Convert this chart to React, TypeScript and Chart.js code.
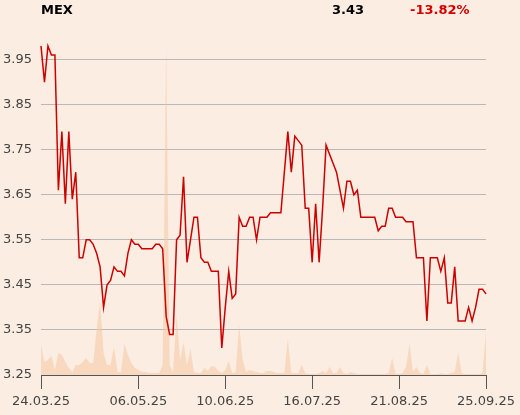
import React, { useEffect, useRef } from "react";
import { Chart, registerables } from "chart.js";

Chart.register(...registerables);

const title = "MEX";
const lastPrice = "3.43";
const changePct = "-13.82%";

const prices: number[] = [
  3.98, 3.9, 3.98, 3.96, 3.96, 3.66, 3.79, 3.63, 3.79, 3.64,
  3.7, 3.51, 3.51, 3.55, 3.55, 3.54, 3.52, 3.49, 3.4, 3.45,
  3.46, 3.49, 3.48, 3.48, 3.47, 3.52, 3.55, 3.54, 3.54, 3.53,
  3.53, 3.53, 3.53, 3.54, 3.54, 3.53, 3.38, 3.34, 3.34, 3.55,
  3.56, 3.69, 3.5, 3.55, 3.6, 3.6, 3.51, 3.5, 3.5, 3.48,
  3.48, 3.48, 3.31, 3.4, 3.48, 3.42, 3.43, 3.6, 3.58, 3.58,
  3.6, 3.6, 3.55, 3.6, 3.6, 3.6, 3.61, 3.61, 3.61, 3.61,
  3.7, 3.79, 3.7, 3.78, 3.77, 3.76, 3.62, 3.62, 3.5, 3.63,
  3.5, 3.62, 3.76, 3.74, 3.72, 3.7, 3.66, 3.62, 3.68, 3.68,
  3.65, 3.66, 3.6, 3.6, 3.6, 3.6, 3.6, 3.57, 3.58, 3.58,
  3.62, 3.62, 3.6, 3.6, 3.6, 3.59, 3.59, 3.59, 3.51, 3.51,
  3.51, 3.37, 3.51, 3.51, 3.51, 3.48, 3.51, 3.41, 3.41, 3.49,
  3.37, 3.37, 3.37, 3.4, 3.37, 3.4, 3.44, 3.44, 3.43,
];

const volumes: number[] = [
  30, 13, 15, 19, 5, 22, 20, 13, 7, 3,
  10, 10, 13, 17, 12, 12, 45, 73, 22, 10,
  10, 28, 3, 3, 31, 20, 12, 7, 5, 3,
  3, 2, 2, 2, 2, 10, 327, 10, 3, 60,
  15, 32, 10, 26, 3, 2, 2, 7, 4, 9,
  8, 4, 2, 5, 14, 2, 3, 50, 15, 3,
  5, 4, 3, 2, 2, 4, 4, 3, 2, 2,
  2, 36, 2, 2, 2, 10, 2, 1, 1, 1,
  2, 4, 2, 8, 2, 2, 8, 2, 1, 3,
  2, 1, 1, 1, 1, 1, 1, 1, 1, 1,
  2, 17, 1, 1, 2, 8, 31, 3, 8, 2,
  1, 10, 1, 1, 1, 2, 1, 1, 2, 3,
  22, 2, 1, 1, 1, 1, 1, 2, 43,
];

const xTickIndices: number[] = [0, 28, 53, 78, 103, 128];
const xTickLabels: string[] = ["24.03.25", "06.05.25", "10.06.25", "16.07.25", "21.08.25", "25.09.25"];
const yTicks: number[] = [3.25, 3.35, 3.45, 3.55, 3.65, 3.75, 3.85, 3.95];

const BG = "#fbede1";
const FONT = "'DejaVu Sans', sans-serif";

export default function App() {
  const ref = useRef<HTMLCanvasElement | null>(null);

  useEffect(() => {
    document.body.style.margin = "0";
    const canvas = ref.current;
    if (!canvas) return;
    const pricePts = prices.map((v, i) => ({ x: i, y: v }));
    const volPts = volumes.map((v, i) => ({ x: i, y: v }));
    const chart = new Chart(canvas, {
      type: "line",
      data: {
        datasets: [
          {
            data: pricePts,
            yAxisID: "y",
            borderColor: "#cc0000",
            borderWidth: 1.5,
            pointRadius: 0,
            tension: 0,
            fill: false,
            clip: false as any,
            order: 1,
          },
          {
            data: volPts,
            yAxisID: "y1",
            borderWidth: 0,
            borderColor: "rgba(0,0,0,0)",
            backgroundColor: "rgba(246,198,158,0.5)",
            pointRadius: 0,
            tension: 0,
            fill: "origin",
            order: 2,
          },
        ],
      },
      options: {
        responsive: false,
        animation: false,
        events: [],
        layout: { padding: { top: 46, right: 34, left: 0, bottom: 0 } },
        plugins: { legend: { display: false }, tooltip: { enabled: false } },
        scales: {
          x: {
            type: "linear",
            min: 0,
            max: prices.length - 1,
            afterBuildTicks: (s: any) => {
              s.ticks = xTickIndices.map((v) => ({ value: v }));
            },
            afterFit: (s: any) => {
              s.height = 40;
            },
            grid: {
              drawOnChartArea: false,
              drawTicks: true,
              tickLength: 14,
              color: "#555555",
            },
            border: { display: true, color: "#555555", width: 1 },
            ticks: {
              autoSkip: false,
              maxRotation: 0,
              padding: 5,
              color: "#444444",
              font: { family: FONT, size: 13 },
              callback: (v: any) => {
                const k = xTickIndices.indexOf(Number(v));
                return k >= 0 ? xTickLabels[k] : "";
              },
            },
          },
          y: {
            position: "left",
            min: 3.25,
            max: 3.98,
            afterBuildTicks: (s: any) => {
              s.ticks = yTicks.map((v) => ({ value: v }));
            },
            afterFit: (s: any) => {
              s.width = 41;
            },
            grid: { color: "#b8b8b8", drawTicks: false, lineWidth: 1 },
            border: { display: false },
            ticks: {
              padding: 9,
              color: "#444444",
              font: { family: FONT, size: 13 },
              callback: (v: any) => Number(v).toFixed(2),
            },
          },
          y1: {
            display: false,
            min: 0,
            max: 328,
          },
        },
      },
    });
    return () => chart.destroy();
  }, []);

  const head: React.CSSProperties = {
    position: "absolute",
    top: 2,
    fontFamily: FONT,
    fontWeight: "bold",
    fontSize: 13,
    lineHeight: "15px",
    whiteSpace: "nowrap",
  };

  return (
    <div style={{ position: "relative", width: 520, height: 415, background: BG, overflow: "hidden" }}>
      <canvas ref={ref} width={520} height={415} style={{ display: "block" }} />
      <div style={{ ...head, left: 41, color: "#000" }}>{title}</div>
      <div style={{ ...head, left: 332, color: "#000" }}>{lastPrice}</div>
      <div style={{ ...head, left: 410, color: "#d40000" }}>{changePct}</div>
    </div>
  );
}
